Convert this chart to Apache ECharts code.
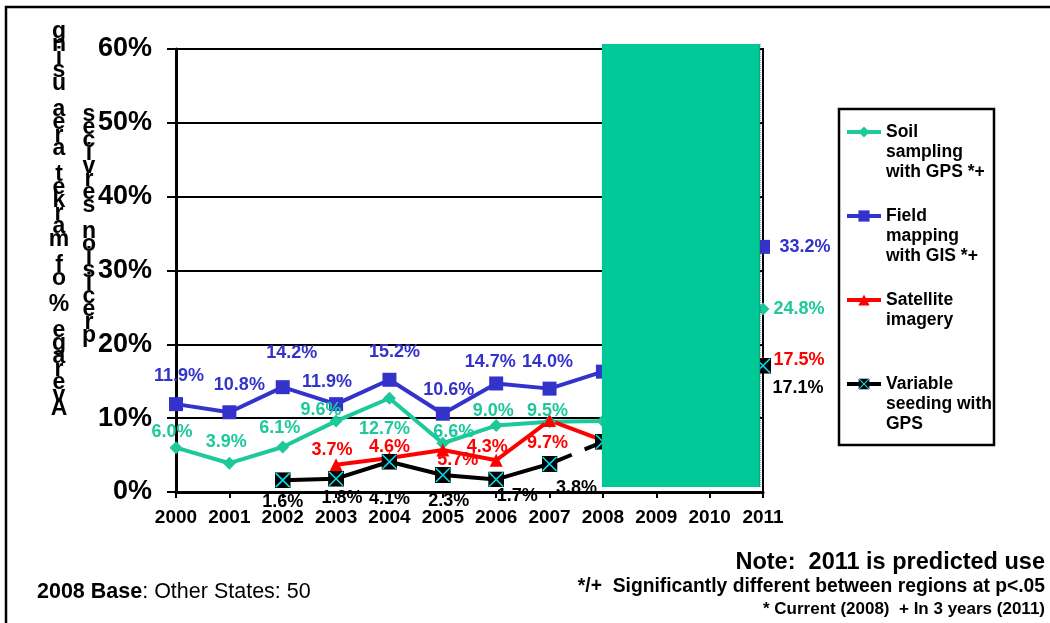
<!DOCTYPE html>
<html><head><meta charset="utf-8">
<script src="https://cdn.jsdelivr.net/npm/echarts@6/dist/echarts.min.js"></script>
<style>html,body{margin:0;padding:0;background:#fff}#c{width:1050px;height:623px}</style>
</head><body><div id="c"></div>
<script>
// ---- data ----
const years = ['2000','2001','2002','2003','2004','2005','2006','2007','2008','2009','2010','2011'];
const soilSampling   = [6.0, 3.9, 6.1, 9.6, 12.7, 6.6, 9.0, 9.5, 9.6, null, null, 24.8];
const fieldMapping   = [11.9, 10.8, 14.2, 11.9, 15.2, 10.6, 14.7, 14.0, 16.3, null, null, 33.2];
const satelliteImagery = [null, null, null, 3.7, 4.6, 5.7, 4.3, 9.7, 7.0, null, null, 17.5];
const variableSeeding  = [null, null, 1.6, 1.8, 4.1, 2.3, 1.7, 3.8, 6.8, null, null, 17.1];
const seriesNames = ['Soil sampling with GPS *+', 'Field mapping with GIS *+', 'Satellite imagery', 'Variable seeding with GPS'];
const legendLines = {
  'Soil sampling with GPS *+': 'Soil\nsampling\nwith GPS *+',
  'Field mapping with GIS *+': 'Field\nmapping\nwith GIS *+',
  'Satellite imagery': 'Satellite\nimagery\n ',
  'Variable seeding with GPS': 'Variable\nseeding with\nGPS'
};
const yAxisTitleA = 'Average % of market area using';
const yAxisTitleB = 'precision services';
const yTickLabels = ['0%','10%','20%','30%','40%','50%','60%'];
const hiddenLabelYear = '2008';

// ---- label placement (style, not data) ----
const soilOff  = [[-4,-16],[-3,-21],[-3,-19],[-15,-11],[-5,31],[11,-11],[-3,-15],[-2,-11],[0,-11],null,null,[36,0]];
const fieldOff = [[3,-28],[10,-27],[9,-34],[-9,-22],[5,-28],[6,-24],[-6,-21],[-2,-27],[0,-27],null,null,[42,0]];
const satOff   = [null,null,null,[-4,-15],[0,-11],[15,10],[-9,-13],[-2,23],[0,10],null,null,[36,-3]];
const varOff   = [null,null,[0,22],[6,19],[0,37],[6,26],[21,17],[27,24],[0,22],null,null,[35,22]];

const FONT = '"Liberation Sans", Arial, sans-serif';
const GREEN = '#1DC99A', BLUE = '#3333CC', RED = '#FF0000', BLACK = '#000000';

const xMarker = 'image://data:image/svg+xml;utf8,' + encodeURIComponent(
  '<svg xmlns="http://www.w3.org/2000/svg" width="16" height="16"><rect width="16" height="16" fill="black"/><path d="M1 1L15 15M15 1L1 15" stroke="#00E0F0" stroke-width="1.6"/></svg>');

const hiddenIdx = years.indexOf(hiddenLabelYear);
function items(values, offs, from, to, noSymbolIdx) {
  return values.map(function (v, i) {
    if (v == null || i < from || i > to) return null;
    const it = { value: v, label: { offset: offs[i] || [0, 0] } };
    if (i === hiddenIdx) it.label = { show: false };
    if (noSymbolIdx !== undefined && i === noSymbolIdx) { it.symbol = 'none'; it.label = { show: false }; }
    return it;
  });
}
function lbl(color) {
  return { show: true, position: 'inside', color: color, fontSize: 18, fontWeight: 'bold', fontFamily: FONT,
           formatter: function (p) { return p.value.toFixed(1) + '%'; } };
}

const chart = echarts.init(document.getElementById('c'), null, { renderer: 'canvas' });
chart.setOption({
  animation: false,
  backgroundColor: '#fff',
  grid: { left: 176, right: 287, top: 49, bottom: 131, show: true, borderColor: '#000', borderWidth: 2, containLabel: false },
  xAxis: {
    type: 'category', data: years, boundaryGap: false,
    axisLine: { lineStyle: { color: '#000', width: 3 } },
    axisTick: { show: true, length: 6, lineStyle: { color: '#000', width: 2 } },
    axisLabel: { interval: 0, color: '#000', fontSize: 19, fontWeight: 'bold', fontFamily: FONT, margin: 16 },
    splitLine: { show: false }
  },
  yAxis: {
    type: 'value', min: 0, max: 60, interval: 10,
    axisLine: { show: true, lineStyle: { color: '#000', width: 3 } },
    axisTick: { show: true, length: 9, lineStyle: { color: '#000', width: 2 } },
    axisLabel: { color: '#000', fontSize: 27, fontWeight: 'bold', fontFamily: FONT, margin: 24,
                 formatter: function (v) { return yTickLabels[Math.round(v / 10)]; } },
    splitLine: { show: true, lineStyle: { color: '#000', width: 2 } }
  },
  legend: {
    orient: 'vertical', left: 845, top: 82, padding: 0, itemGap: -16, itemWidth: 34, itemHeight: 14,
    selectedMode: false, data: seriesNames,
    lineStyle: { width: 4 },
    formatter: function (n) { return ' \n \n' + legendLines[n]; },
    textStyle: { color: '#000', fontSize: 17.5, fontWeight: 'bold', fontFamily: FONT, lineHeight: 20 }
  },
  series: [
    { name: seriesNames[0], type: 'line', data: items(soilSampling, soilOff, 0, 11), connectNulls: true,
      symbol: 'diamond', symbolSize: 13, color: GREEN, lineStyle: { width: 4, color: GREEN },
      itemStyle: { color: GREEN }, label: lbl(GREEN) },
    { name: seriesNames[1], type: 'line', data: items(fieldMapping, fieldOff, 0, 11), connectNulls: true,
      symbol: 'rect', symbolSize: 14, color: BLUE, lineStyle: { width: 4, color: BLUE },
      itemStyle: { color: BLUE }, label: lbl(BLUE) },
    { name: seriesNames[2], type: 'line', data: items(satelliteImagery, satOff, 0, 11), connectNulls: true,
      symbol: 'triangle', symbolSize: 13, color: RED, lineStyle: { width: 4, color: RED },
      itemStyle: { color: RED }, label: lbl(RED) },
    { name: seriesNames[3], type: 'line', data: items(variableSeeding, varOff, 0, 7), connectNulls: false,
      symbol: xMarker, symbolSize: 16, color: BLACK, lineStyle: { width: 4, color: BLACK },
      itemStyle: { color: BLACK }, label: lbl(BLACK) },
    { name: 'Variable seeding (projected)', type: 'line', data: items(variableSeeding, varOff, 7, 11, 7), connectNulls: true,
      symbol: xMarker, symbolSize: 16, color: BLACK, lineStyle: { width: 4, color: BLACK, type: [24, 14] },
      itemStyle: { color: BLACK }, label: lbl(BLACK) }
  ]
});

// overlay decorations positioned through the axes
const x08 = chart.convertToPixel({ xAxisIndex: 0 }, '2008');
const x11 = chart.convertToPixel({ xAxisIndex: 0 }, '2011');
const yTop = chart.convertToPixel({ yAxisIndex: 0 }, 60);
const yBot = chart.convertToPixel({ yAxisIndex: 0 }, 0);
const bx = x08 - 1, by = yTop - 5, bw = (x11 - 3) - bx, bh = (yBot - 5) - by;

function stackText(s) { return s.split('').reverse().join('\n'); }

chart.setOption({
  graphic: [
    { type: 'rect', z: 0, silent: true, shape: { x: 6, y: 7, width: 1200, height: 800 },
      style: { fill: 'none', stroke: '#000', lineWidth: 2.5 } },
    { type: 'rect', z: 50, silent: true, shape: { x: bx, y: by, width: bw, height: bh },
      style: { fill: '#00C997', stroke: null } },
    { type: 'line', z: 51, silent: true, shape: { x1: bx + bw, y1: by, x2: bx + bw, y2: by + bh },
      style: { stroke: '#444', lineWidth: 1, lineDash: [1, 1] } },
    { type: 'rect', z: 5, silent: true, shape: { x: 839, y: 109, width: 155, height: 336 },
      style: { fill: 'none', stroke: '#000', lineWidth: 2.5 } },
    { type: 'text', z: 5, silent: true, x: 59, y: 25,
      style: { text: stackText(yAxisTitleA), font: 'bold 23px ' + FONT, fill: '#000', align: 'center', verticalAlign: 'top', lineHeight: 13 } },
    { type: 'text', z: 5, silent: true, x: 89, y: 108,
      style: { text: stackText(yAxisTitleB), font: 'bold 23px ' + FONT, fill: '#000', align: 'center', verticalAlign: 'top', lineHeight: 13 } },
    { type: 'text', z: 5, silent: true, x: 37, y: 592,
      style: { text: '{b|2008 Base}{r|: Other States: 50}', verticalAlign: 'middle', align: 'left',
        rich: { b: { font: 'bold 21.5px ' + FONT, fill: '#000' }, r: { font: '21.5px ' + FONT, fill: '#000' } } } },
    { type: 'text', z: 5, silent: true, x: 1045, y: 563,
      style: { text: 'Note:  2011 is predicted use', font: 'bold 23.5px ' + FONT, fill: '#000', align: 'right', verticalAlign: 'middle' } },
    { type: 'text', z: 5, silent: true, x: 1045, y: 587,
      style: { text: '*/+  Significantly different between regions at p<.05', font: 'bold 19.3px ' + FONT, fill: '#000', align: 'right', verticalAlign: 'middle' } },
    { type: 'text', z: 5, silent: true, x: 1045, y: 609,
      style: { text: '* Current (2008)  + In 3 years (2011)', font: 'bold 17px ' + FONT, fill: '#000', align: 'right', verticalAlign: 'middle' } }
  ]
});
</script>
</body></html>
